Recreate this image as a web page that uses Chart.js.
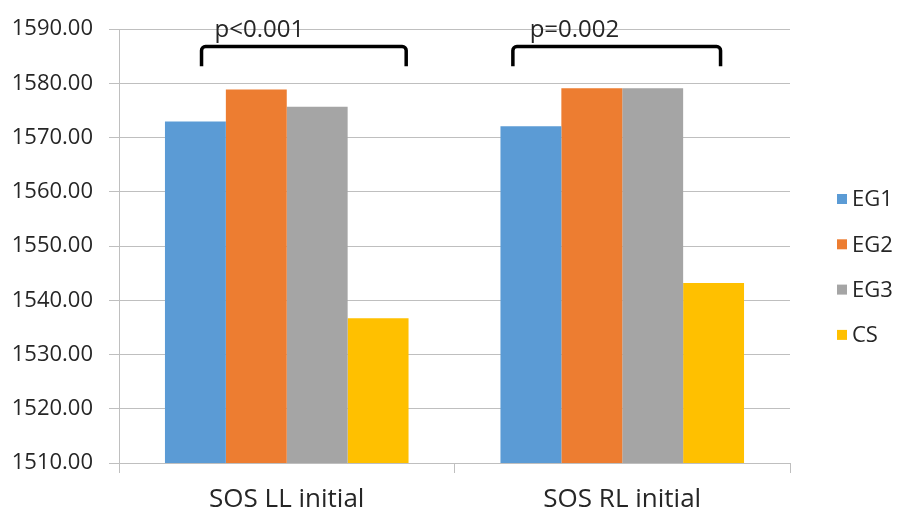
<!DOCTYPE html>
<html>
<head>
<meta charset="utf-8">
<script src="https://cdn.jsdelivr.net/npm/chart.js@4.4.1/dist/chart.umd.min.js"></script>
<style>
  html, body { margin: 0; padding: 0; background: #fff; }
  #wrap { width: 897px; height: 515px; position: relative; }
</style>
</head>
<body>
<div id="wrap"><canvas id="myChart"></canvas></div>
<script>
// data
const categories = ['SOS LL initial', 'SOS RL initial'];
const seriesNames = ['EG1', 'EG2', 'EG3', 'CS'];
const eg1 = [1573.0, 1572.1];
const eg2 = [1578.9, 1579.1];
const eg3 = [1575.7, 1579.1];
const cs = [1536.7, 1543.2];
const yTicks = [1510, 1520, 1530, 1540, 1550, 1560, 1570, 1580, 1590];
const pLabels = ['p<0.001', 'p=0.002'];

const colors = ['#5B9BD5', '#ED7D31', '#A5A5A5', '#FFC000'];
const FONT = "'Open Sans', sans-serif";
const TEXT = '#262626';
const GRID = '#BFBFBF';

// brackets, in category units (offset from category centre) and y values
const bracketFrom = [-0.254, -0.326];
const bracketTo = [0.356, 0.293];
const bracketTop = 1586.8;
const bracketEnd = 1583.15;
const pTextX = [-0.215, -0.276];
const pTextY = 1588.6;

const brackets = {
  id: 'brackets',
  afterDatasetsDraw(chart) {
    const ctx = chart.ctx;
    const x = chart.scales.x, y = chart.scales.y;
    const catW = (chart.chartArea.right - chart.chartArea.left) / categories.length;
    ctx.save();
    ctx.strokeStyle = '#000';
    ctx.lineWidth = 3.5;
    ctx.lineJoin = 'round';
    ctx.lineCap = 'butt';
    categories.forEach((c, i) => {
      const cx = x.getPixelForValue(i);
      const xl = cx + bracketFrom[i] * catW;
      const xr = cx + bracketTo[i] * catW;
      const yt = y.getPixelForValue(bracketTop);
      const ye = y.getPixelForValue(bracketEnd);
      ctx.beginPath();
      ctx.moveTo(xl, ye);
      ctx.arcTo(xl, yt, xr, yt, 4);
      ctx.arcTo(xr, yt, xr, ye, 4);
      ctx.lineTo(xr, ye);
      ctx.stroke();
      ctx.fillStyle = TEXT;
      ctx.font = '24px ' + FONT;
      ctx.textAlign = 'left';
      ctx.textBaseline = 'alphabetic';
      ctx.fillText(pLabels[i], cx + pTextX[i] * catW, y.getPixelForValue(pTextY));
    });
    ctx.restore();
  }
};

const sideLegend = {
  id: 'sideLegend',
  afterDraw(chart) {
    const ctx = chart.ctx;
    ctx.save();
    ctx.font = '22px ' + FONT;
    ctx.textBaseline = 'middle';
    ctx.textAlign = 'left';
    chart.data.datasets.forEach((ds, i) => {
      const cy = 199 + i * 45.3;
      ctx.fillStyle = ds.backgroundColor;
      ctx.fillRect(837, cy - 5, 10, 10);
      ctx.fillStyle = TEXT;
      ctx.fillText(ds.label, 852, cy + 1);
    });
    ctx.restore();
  }
};

const data = {
  labels: categories,
  datasets: [eg1, eg2, eg3, cs].map((vals, i) => ({
    label: seriesNames[i],
    data: vals,
    backgroundColor: colors[i],
    borderWidth: 0,
    categoryPercentage: 0.726,
    barPercentage: 1.0
  }))
};

const config = {
  type: 'bar',
  data: data,
  options: {
    responsive: true,
    maintainAspectRatio: false,
    animation: false,
    layout: { padding: { top: 25, right: 107, left: 0, bottom: 0 } },
    plugins: {
      legend: { display: false },
      tooltip: { enabled: false }
    },
    scales: {
      x: {
        offset: true,
        grid: { display: true, drawOnChartArea: false, drawTicks: true, tickLength: 10, color: GRID, offset: true },
        border: { color: GRID, width: 1 },
        ticks: { color: TEXT, font: { family: FONT, size: 26 }, padding: 11, maxRotation: 0 },
        afterFit(scale) { scale.height = 52; }
      },
      y: {
        min: 1510,
        max: 1590,
        afterBuildTicks(scale) { scale.ticks = yTicks.map(v => ({ value: v })); },
        grid: { color: GRID, tickLength: 10 },
        border: { color: GRID, width: 1 },
        ticks: {
          color: TEXT,
          font: { family: FONT, size: 22 },
          padding: 16,
          callback: v => Number(v).toFixed(2)
        },
        afterFit(scale) { scale.width = 119; }
      }
    }
  },
  plugins: [brackets, sideLegend]
};

const myChart = new Chart(document.getElementById('myChart'), config);
</script>
</body>
</html>
